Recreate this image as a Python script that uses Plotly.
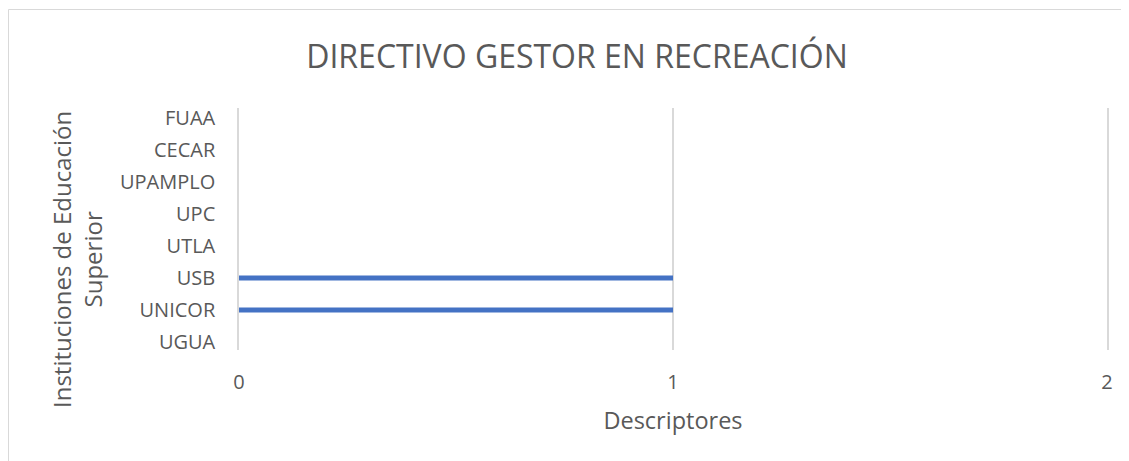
import plotly.graph_objects as go

categories = ["UGUA", "UNICOR", "USB", "UTLA", "UPC", "UPAMPLO", "CECAR", "FUAA"]
values = [0, 1, 1, 0, 0, 0, 0, 0]
x_ticks = [0, 1, 2]
title_text = "DIRECTIVO GESTOR EN RECREACIÓN"
x_title = "Descriptores"
y_title = "Instituciones de Educación<br>Superior"

OFF = 8  # page body margin
W, H = 1129 - OFF, 461 - OFF
L, R, T, B = 239 - OFF, 1129 - 1107, 108 - OFF, 461 - 350
pw, ph = W - L - R, H - T - B

def px(x):
    return (x - OFF - L) / pw

def py(y):
    return (H - B - (y - OFF)) / ph

font_fam = "Open Sans, Calibri, sans-serif"
gray = "#595959"
grid = "#D9D9D9"

fig = go.Figure(go.Bar(
    y=categories, x=values, orientation="h",
    marker=dict(color="#4472C4", line=dict(width=0)),
    width=0.16,
))

fig.update_layout(
    width=W, height=H,
    margin=dict(l=L, r=R, t=T, b=B),
    paper_bgcolor="white", plot_bgcolor="white",
    showlegend=False,
    font=dict(family=font_fam, color=gray, size=20),
    title=dict(text=title_text, font=dict(size=32, color=gray, family=font_fam),
               x=(577 - OFF) / W, xref="container", xanchor="center",
               y=1 - (57 - OFF) / H, yref="container", yanchor="middle"),
    xaxis=dict(range=[0, 2], tickvals=x_ticks, showgrid=True, gridcolor=grid,
               gridwidth=1.5, zeroline=False, showline=False,
               tickfont=dict(size=20, color=gray), ticklabelstandoff=18,
               title=dict(text=x_title, font=dict(size=23.5, color=gray), standoff=18),
               fixedrange=True),
    yaxis=dict(type="category", categoryorder="array", categoryarray=categories,
               range=[-0.25, 7.3125], showgrid=False, zeroline=False,
               showline=True, mirror=True, linecolor=grid, linewidth=1.5,
               tickfont=dict(size=20, color=gray), ticklabelstandoff=18, ticks=""),
    shapes=[dict(type="rect", xref="paper", yref="paper",
                 x0=px(8.5), x1=px(1128.5), y0=py(470), y1=py(9.5),
                 line=dict(color=grid, width=1), fillcolor="rgba(0,0,0,0)",
                 layer="below")],
    annotations=[dict(text=y_title, xref="paper", yref="paper",
                      x=px(77), y=py(260), textangle=-90, showarrow=False,
                      font=dict(size=24, color=gray), xanchor="center", yanchor="middle",
                      align="center")],
)

fig.write_html("out.html")
